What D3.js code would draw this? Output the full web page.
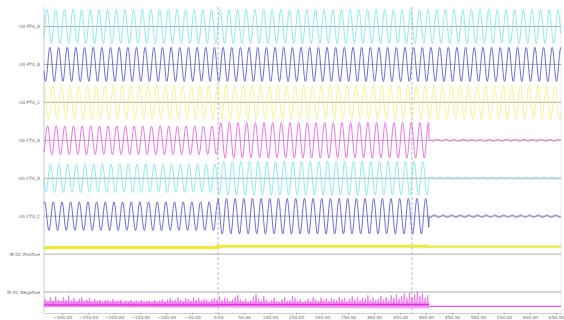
<!DOCTYPE html>
<html>
<head>
<meta charset="utf-8">
<script src="https://cdn.jsdelivr.net/npm/d3@7"></script>
<style>
  body { margin: 0; background: #fff; }
  svg { display: block; }
  text { font-family: "DejaVu Sans", sans-serif; }
</style>
</head>
<body>
<svg id="chart" width="564" height="320"></svg>
<script>
// channel names, top to bottom
const channels = ["U0 PT0_A", "U0 PT0_B", "U0 PT0_C", "U0 CT0_A", "U0 CT0_B", "U0 CT0_C", "IR DC Positive", "IR DC Negative"];
// time edges (ms): pre-fault | fault | after trip
const segmentEdges = [-335, 0, 406, 660];
const markerTimes = [0, 373];
const xTicks = [-300, -250, -200, -150, -100, -50, 0, 50, 100, 150, 200, 250, 300, 350, 400, 450, 500, 550, 600, 650];
const freqHz = 60;
// analog channels (per unit), one value per channel
const phaseDeg = [0, -120, 120, -20, -140, 100];
const ampPre   = [1.0, 1.0, 1.0, 0.84, 0.84, 0.84];
const ampFault = [1.0, 1.0, 1.0, 1.04, 1.0, 1.04];
const ampPost  = [1.0, 1.0, 1.0, 0.06, 0.06, 0.07];
// DC channels, one value per segment
const dcPositive = [0.38, 0.46, 0.44];
const dcNegativeCore = [-0.76, -0.74, -0.84];
// spike heights above the negative core, read across -335..406 ms
const dcNegativeSpikes = [
  0.35, 0.2, 0.45, 0.25, 0.5, 0.3, 0.2, 0.45, 0.3, 0.55, 0.25, 0.4, 0.2, 0.35, 0.45, 0.25,
  0.3, 0.4, 0.2, 0.35, 0.25, 0.3, 0.15, 0.25, 0.3, 0.2, 0.35, 0.2, 0.25, 0.3, 0.15, 0.25,
  0.2, 0.3, 0.15, 0.25, 0.2, 0.3, 0.15, 0.2, 0.25, 0.15, 0.3, 0.2, 0.25, 0.35, 0.2, 0.3,
  0.4, 0.25, 0.3, 0.45, 0.3, 0.2, 0.4, 0.35, 0.25, 0.45, 0.3, 0.4, 0.25, 0.35, 0.3, 0.2,
  0.35, 0.4, 0.3, 0.5, 0.25, 0.4, 0.35, 0.2, 0.3, 0.45, 0.55, 0.3, 0.2, 0.35, 0.15, 0.25,
  0.45, 0.6, 0.35, 0.2, 0.5, 0.3, 0.15, 0.25, 0.4, 0.2, 0.15, 0.3, 0.45, 0.2, 0.25, 0.5,
  0.4, 0.2, 0.3, 0.15, 0.25, 0.35, 0.2, 0.45, 0.3, 0.2, 0.4, 0.25, 0.35, 0.2, 0.4, 0.3,
  0.25, 0.45, 0.3, 0.4, 0.2, 0.35, 0.5, 0.3, 0.45, 0.25, 0.4, 0.35, 0.55, 0.3, 0.4, 0.25,
  0.35, 0.5, 0.3, 0.45, 0.25, 0.55, 0.4, 0.6, 0.35, 0.5, 0.65, 0.4, 0.7, 0.45, 0.6, 0.75,
  0.5, 0.65, 0.4, 0.55
];

const colors = ["#6ee6ee", "#4646cc", "#f4f07a", "#e452de", "#6ee6ee", "#4646cc", "#ecea3c", "#e02ede"];

const svg = d3.select("#chart");
const x = d3.scaleLinear().domain([segmentEdges[0], segmentEdges[3]]).range([44, 561]);
const band = d3.scaleBand().domain(channels).range([7.5, 311]);
const plotTop = 7, plotBottom = 313;

function valueScale(name) {
  const c = band(name) + band.bandwidth() / 2;
  return d3.scaleLinear().domain([-1.1, 1.1]).range([c + 18.7, c - 18.7]);
}
function segIndex(t) {
  return t < segmentEdges[1] ? 0 : (t < segmentEdges[2] ? 1 : 2);
}

// frame
svg.append("line").attr("x1", 44).attr("x2", 44).attr("y1", plotTop).attr("y2", plotBottom)
  .attr("stroke", "#bbb").attr("stroke-width", 0.8);
svg.append("line").attr("x1", 561).attr("x2", 561).attr("y1", plotTop).attr("y2", plotBottom)
  .attr("stroke", "#ddd").attr("stroke-width", 0.6);

// channel baselines and labels
channels.forEach(name => {
  const y0 = valueScale(name)(0);
  svg.append("line").attr("x1", 44).attr("x2", 561).attr("y1", y0).attr("y2", y0)
    .attr("stroke", "#8a8a8a").attr("stroke-width", 0.7);
  svg.append("text").attr("x", 40).attr("y", y0).attr("dy", "0.35em")
    .attr("text-anchor", "end").attr("font-size", 4.4).attr("fill", "#666").text(name);
});

// marker lines
svg.selectAll(".marker").data(markerTimes).enter().append("line")
  .attr("class", "marker")
  .attr("x1", d => x(d)).attr("x2", d => x(d))
  .attr("y1", plotTop).attr("y2", plotBottom)
  .attr("stroke", "#a8a8a8").attr("stroke-width", 0.8).attr("stroke-dasharray", "3,2");

// analog waves
const times = d3.range(segmentEdges[0], segmentEdges[3], 0.5);
const amps = [ampPre, ampFault, ampPost];
for (let i = 0; i < 6; i++) {
  const v = valueScale(channels[i]);
  const pts = times.map(t => [t, amps[segIndex(t)][i] * Math.sin(2 * Math.PI * freqHz * t / 1000 + phaseDeg[i] * Math.PI / 180)]);
  svg.append("path").datum(pts)
    .attr("fill", "none").attr("stroke", colors[i]).attr("stroke-width", 0.8)
    .attr("d", d3.line().x(d => x(d[0])).y(d => v(d[1])));
}

// DC positive
{
  const v = valueScale(channels[6]);
  const pts = [];
  dcPositive.forEach((lv, s) => {
    pts.push([segmentEdges[s], lv], [segmentEdges[s + 1], lv]);
  });
  svg.append("path").datum(pts.slice(0, 4))
    .attr("fill", "none").attr("stroke", colors[6]).attr("stroke-width", 3.2)
    .attr("d", d3.line().x(d => x(d[0])).y(d => v(d[1])));
  svg.append("path").datum(pts.slice(4))
    .attr("fill", "none").attr("stroke", colors[6]).attr("stroke-width", 2.2)
    .attr("d", d3.line().x(d => x(d[0])).y(d => v(d[1])));
}

// DC negative
{
  const v = valueScale(channels[7]);
  const t0 = segmentEdges[0], t1 = segmentEdges[2];
  const dt = (t1 - t0) / dcNegativeSpikes.length;
  const core = t => dcNegativeCore[segIndex(t)];
  svg.append("path").datum([[t0, 0], [t1, 0]])
    .attr("fill", "none").attr("stroke", "#f6a6f3").attr("stroke-width", 6)
    .attr("d", d3.line().x(d => x(d[0])).y(d => v(core(d[0]) + 0.05)));
  const pts = [];
  dcNegativeSpikes.forEach((h, k) => {
    const t = t0 + dt * (k + 0.5);
    pts.push([t - dt / 3, core(t) - 0.08], [t, core(t) + h], [t + dt / 3, core(t) - 0.12]);
  });
  svg.append("path").datum(pts)
    .attr("fill", "none").attr("stroke", "#ee5aec").attr("stroke-width", 0.7)
    .attr("d", d3.line().x(d => x(d[0])).y(d => v(d[1])));
  svg.append("path").datum([[t0, dcNegativeCore[0]], [0, dcNegativeCore[0]], [0, dcNegativeCore[1]], [t1, dcNegativeCore[1]]])
    .attr("fill", "none").attr("stroke", colors[7]).attr("stroke-width", 1.2)
    .attr("d", d3.line().x(d => x(d[0])).y(d => v(d[1])));
  svg.append("path").datum([[t1, dcNegativeCore[2]], [segmentEdges[3], dcNegativeCore[2]]])
    .attr("fill", "none").attr("stroke", colors[7]).attr("stroke-width", 1)
    .attr("d", d3.line().x(d => x(d[0])).y(d => v(d[1])));
}

// time axis
const axis = svg.append("g").attr("transform", `translate(0,${plotBottom})`)
  .call(d3.axisBottom(x).tickValues(xTicks).tickFormat(d3.format(".2f")).tickSize(1.5).tickPadding(1.5));
axis.select(".domain").attr("stroke", "#bbb").attr("stroke-width", 0.7);
axis.selectAll(".tick line").attr("stroke", "#999");
axis.selectAll("text").attr("font-size", 4.4).attr("fill", "#666").attr("font-family", "DejaVu Sans, sans-serif");
</script>
</body>
</html>
